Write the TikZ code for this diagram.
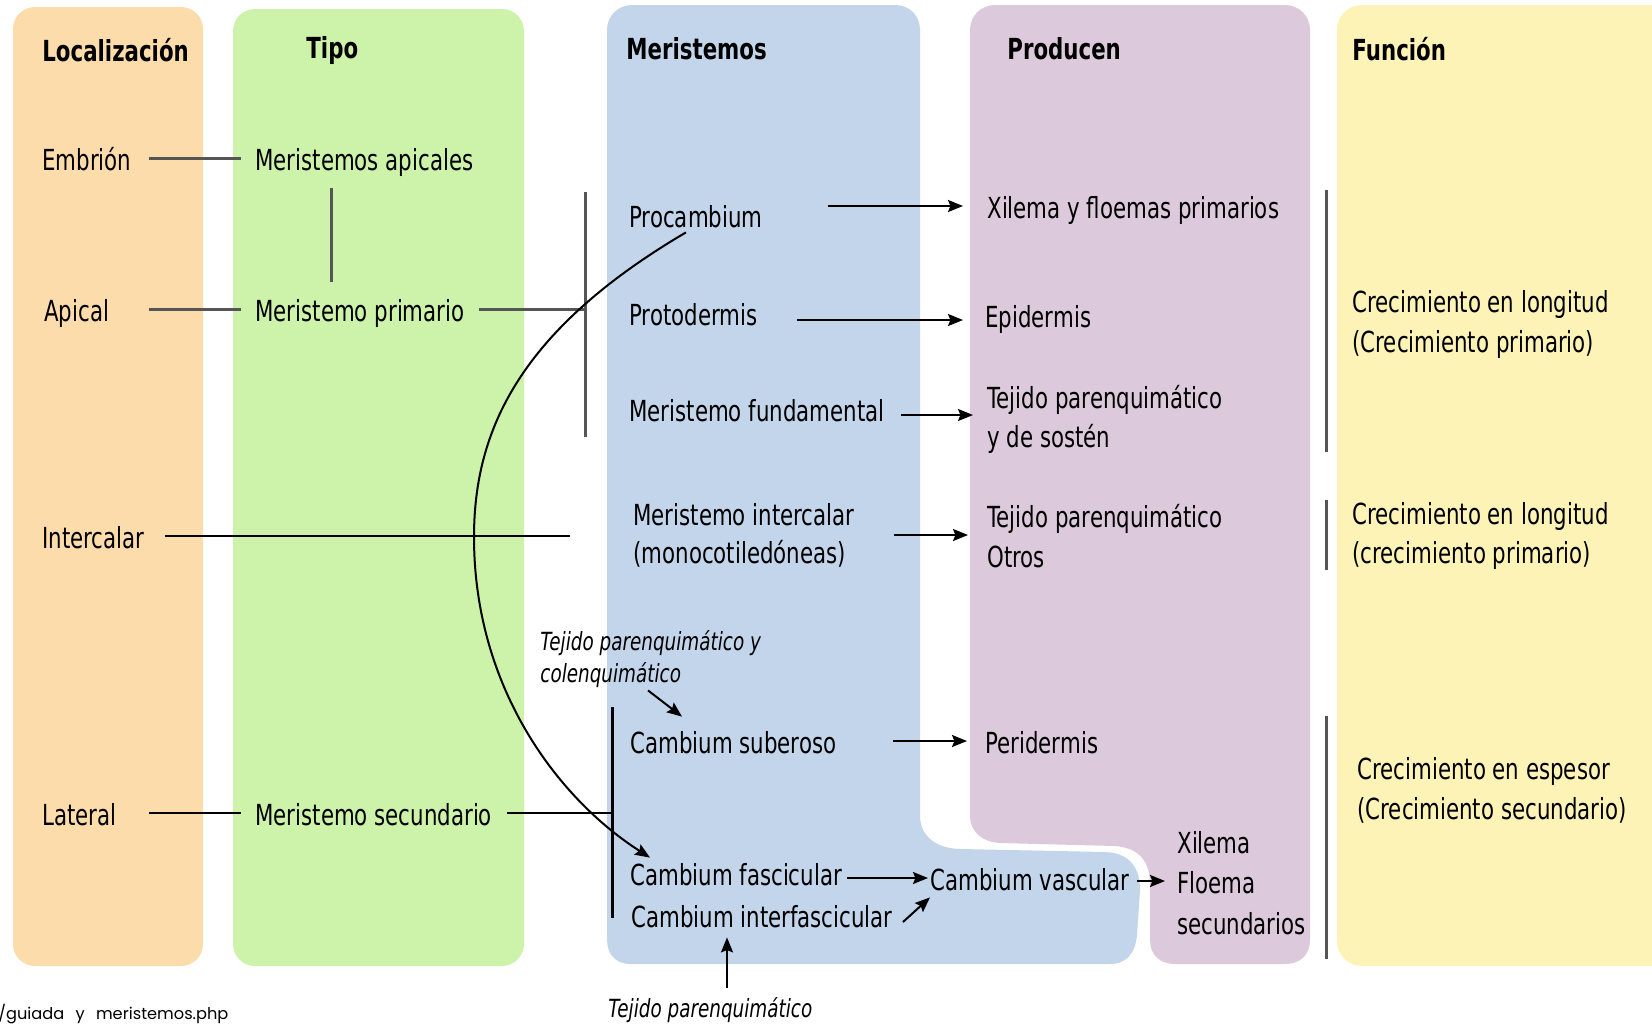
\documentclass[tikz,border=0pt]{standalone}
\usepackage{fontspec}
\setmainfont{DejaVu Sans}[FakeStretch=0.735]
\newfontfamily\footfont{Poppins}
\usetikzlibrary{arrows.meta,calc}
\definecolor{orangeF}{HTML}{FDDCAC}
\definecolor{greenF}{HTML}{CDF2A9}
\definecolor{blueF}{HTML}{C3D5EA}
\definecolor{pinkF}{HTML}{DCC9DB}
\definecolor{yellowF}{HTML}{FDF3B7}
\definecolor{lineGray}{HTML}{555555}
\tikzset{
 txt/.style={anchor=base west, inner sep=0pt, text height=13pt, text depth=1pt, font=\fontsize{14.5}{17}\selectfont},
 hdr/.style={txt, font=\fontsize{14.5}{17}\selectfont\bfseries},
 itx/.style={anchor=base west, inner sep=0pt, text height=11pt, text depth=1pt, font=\fontsize{12.5}{15}\selectfont\itshape},
 gline/.style={draw=lineGray, line width=1.5pt},
 bline/.style={draw=black, line width=1pt},
 arr/.style={draw=black, line width=1pt, -{Stealth[length=7.5pt,width=6pt,inset=1.2pt]}},
}
\begin{document}
\begin{tikzpicture}[x=0.5pt,y=-0.5pt]
\useasboundingbox (0,0) rectangle (1652,1023);
% panels
\fill[orangeF, rounded corners=11pt] (13,7) rectangle (203,966);
\fill[greenF, rounded corners=11pt] (233,9) rectangle (524,966);
\fill[blueF] (632,5) -- (895,5) .. controls (910,5) and (920,16) .. (920,30)
  -- (920,815) .. controls (920,836) and (935,848) .. (960,849)
  -- (1105,852) .. controls (1130,853) and (1140,868) .. (1140,890)
  -- (1137,935) .. controls (1135,955) and (1125,964) .. (1110,964)
  -- (630,964) .. controls (617,964) and (607,955) .. (607,940)
  -- (607,30) .. controls (607,16) and (618,5) .. (632,5) -- cycle;
\fill[pinkF] (995,5) -- (1285,5) .. controls (1299,5) and (1310,16) .. (1310,30)
  -- (1310,940) .. controls (1310,955) and (1300,964) .. (1285,964)
  -- (1175,964) .. controls (1160,964) and (1150,955) .. (1150,940)
  -- (1150,885) .. controls (1150,862) and (1140,848) .. (1115,846)
  -- (1000,843) .. controls (983,842) and (970,833) .. (970,815)
  -- (970,30) .. controls (970,16) and (981,5) .. (995,5) -- cycle;
\fill[yellowF] (1652,5) -- (1362,5) .. controls (1348,5) and (1337,16) .. (1337,30)
  -- (1337,941) .. controls (1337,955) and (1348,966) .. (1362,966) -- (1652,966) -- cycle;

% headers
\node[hdr] (hloc) at (42,61) {Localización};
\node[hdr] (htipo) at (306,58) {Tipo};
\node[hdr] (hmer) at (626,59) {Meristemos};
\node[hdr] (hprod) at (1007,59) {Producen};
\node[hdr] (hfun) at (1352,60) {Función};

% localizacion
\node[txt] (emb) at (42,170) {Embrión};
\node[txt] (api) at (44,321) {Apical};
\node[txt] (intc) at (42,548) {Intercalar};
\node[txt] (lat) at (42,825) {Lateral};

% tipo
\node[txt] (apic) at (255,170) {Meristemos apicales};
\node[txt] (apri) at (255,321) {Meristemo primario};
\node[txt] (msec) at (255,825) {Meristemo secundario};

% meristemos
\node[txt] (proc) at (629,227) {Procambium};
\node[txt] (prot) at (629,325) {Protodermis};
\node[txt] (mfun) at (629,421) {Meristemo fundamental};
\node[txt] (mint1) at (633,525) {Meristemo intercalar};
\node[txt] (mint2) at (633,563) {(monocotiledóneas)};
\node[txt] (csub) at (630,753) {Cambium suberoso};
\node[txt] (cfas) at (630,885) {Cambium fascicular};
\node[txt] (cint) at (631,927) {Cambium interfascicular};
\node[txt] (cvas) at (930,890) {Cambium vascular};

% producen
\node[txt] (xil) at (987,218) {Xilema y floemas primarios};
\node[txt] (epi) at (985,327) {Epidermis};
\node[txt] (tej1a) at (987,408) {Tejido parenquimático};
\node[txt] (tej1b) at (987,447) {y de sostén};
\node[txt] (tej2a) at (987,527) {Tejido parenquimático};
\node[txt] (tej2b) at (987,567) {Otros};
\node[txt] (peri) at (985,753) {Peridermis};
\node[txt] (xs1) at (1177,853) {Xilema};
\node[txt] (xs2) at (1177,893) {Floema};
\node[txt] (xs3) at (1177,934) {secundarios};

% funcion
\node[txt] (f1a) at (1352,312) {Crecimiento en longitud};
\node[txt] (f1b) at (1352,352) {(Crecimiento primario)};
\node[txt] (f2a) at (1352,524) {Crecimiento en longitud};
\node[txt] (f2b) at (1352,563) {(crecimiento primario)};
\node[txt] (f3a) at (1357,779) {Crecimiento en espesor};
\node[txt] (f3b) at (1357,819) {(Crecimiento secundario)};

% italic notes
\node[itx] (it1a) at (540,650) {Tejido parenquimático y};
\node[itx] (it1b) at (540,682) {colenquimático};
\node[itx] (it2) at (608,1017) {Tejido parenquimático};

% footer
\node[anchor=base west, inner sep=0pt, font=\footfont\fontsize{8.1}{10}\selectfont] (foot) at (-2,1019) {/guiada\hspace{0.7em}y\hspace{0.7em}meristemos.php};

% bracket coordinates
\coordinate (b1t) at (585,192);
\coordinate (b1b) at (585,437);
\coordinate (b2t) at (612,707);
\coordinate (b2b) at (612,918);
\coordinate (intEnd) at (570,535);
\coordinate (r1t) at (1326,190);
\coordinate (r1b) at (1326,452);
\coordinate (r2t) at (1326,500);
\coordinate (r2b) at (1326,570);
\coordinate (r3t) at (1326,716);
\coordinate (r3b) at (1326,959);

% gray lines
\draw[gline, shorten <=8.5pt, shorten >=7pt] (emb.east) -- (apic.west);
\draw[gline] ([xshift=38pt,yshift=-8pt]apic.south west) -- ([xshift=38pt,yshift=6.5pt]apri.north west);
\draw[gline, shorten <=19.5pt, shorten >=7pt] (api.east) -- (apri.west);
\draw[gline, shorten <=7pt] (apri.east) -- (apri.east -| b1t);
\draw[gline] (b1t) -- (b1b);
\draw[gline] (r1t) -- (r1b);
\draw[gline] (r2t) -- (r2b);
\draw[gline] (r3t) -- (r3b);

% black lines
\draw[bline, shorten <=10pt] (intc.east) -- (intc.east -| intEnd);
\draw[bline, line width=1.2pt, shorten <=16pt, shorten >=7pt] (lat.east) -- (msec.west);
\draw[bline, shorten <=7.5pt] (msec.east) -- (msec.east -| b2t);
\draw[bline, line width=1.5pt] (b2t) -- (b2b);

% arrows
\draw[arr, shorten <=32.5pt, shorten >=12pt] (proc.east |- xil.west) -- (xil.west);
\draw[arr, shorten <=19.5pt, shorten >=11pt] ([yshift=-3.5pt]prot.east) -- ([yshift=-3.5pt]prot.east -| epi.west);
\draw[arr, shorten <=8pt, shorten >=7pt] ([yshift=-3pt]mfun.east) -- ([yshift=-3pt]mfun.east -| tej1a.west);
\draw[arr, shorten <=19.5pt, shorten >=9.5pt] ([yshift=-11pt]mint1.east) -- ([yshift=-11pt]mint1.east -| tej2a.west);
\draw[arr, shorten <=28pt, shorten >=9pt] (csub.east) -- (csub.east -| peri.west);
\draw[arr, shorten <=2.5pt, shorten >=1pt] (cfas.east |- cvas.west) -- (cvas.west);
\draw[arr] ([shift={(5pt,-3.5pt)}]cint.east) -- ([yshift=-2.5pt]cvas.south west);
\draw[arr, shorten <=3.5pt, shorten >=6pt] (cvas.east |- xs2.west) -- (xs2.west);
\draw[arr] ([shift={(54pt,-3pt)}]it1b.south west) -- ([shift={(26pt,5pt)}]csub.north west);
\draw[arr] ([shift={(59.5pt,3.5pt)}]it2.north west) -- ([shift={(48pt,-4pt)}]cint.south west);

% big curve
\draw[arr] ([xshift=-5pt,yshift=-1.5pt]proc.south) .. controls (520,330) and (474,430) .. (474,537)
  .. controls (474,690) and (560,800) .. ([xshift=10pt,yshift=0.5pt]cfas.north west);
\end{tikzpicture}
\end{document}
